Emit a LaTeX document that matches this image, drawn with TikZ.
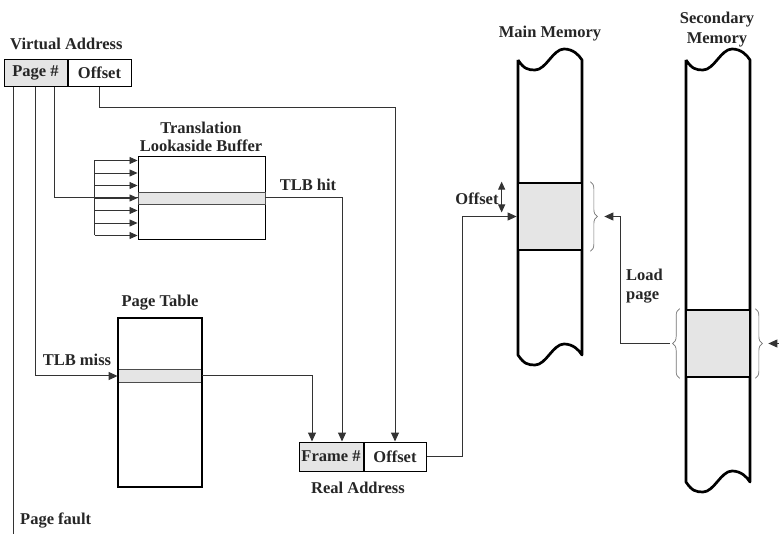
\documentclass[tikz,border=0pt]{standalone}
\usepackage{fontspec}
\setmainfont{Liberation Serif}
\usetikzlibrary{arrows.meta,positioning,calc,decorations.pathreplacing}

\begin{document}
\begin{tikzpicture}[
    x=1pt, y=-1pt,
    lbl/.style={font=\bfseries\fontsize{16.5}{18.5}\selectfont, text=black!85, align=center, inner sep=0pt},
    cell/.style={draw, line width=1pt, minimum height=27pt, inner sep=0pt, font=\bfseries\fontsize{16.5}{18.5}\selectfont, text=black!85},
    rowbox/.style={draw=black!70, line width=0.8pt, fill=gray!20, inner sep=0pt},
    memblk/.style={draw, line width=2.7pt, fill=gray!20, minimum width=64pt, minimum height=67pt, inner sep=0pt},
    memcol/.style={line width=2.7pt, line join=round},
    wire/.style={line width=1pt, black!80, -{Triangle[length=9pt,width=8pt]}},
    fan/.style={line width=0.8pt, black!80, -{Triangle[length=8pt,width=7pt]}},
    curly/.style={draw=black!55, line width=0.7pt, decorate, decoration={brace, amplitude=7pt}}
  ]
  \useasboundingbox (0,0) rectangle (779,534);

  % virtual address
  \node[lbl, anchor=west] (vlbl) at (10,44) {Virtual Address};
  \node[cell, fill=gray!20, minimum width=63pt] (vpage) at (35.5,73) {Page \#};
  \node[cell, minimum width=63pt, anchor=west] (voff) at (vpage.east) {Offset};

  % TLB
  \node[lbl] (tlblbl) at (201,137) {Translation\\Lookaside Buffer};
  \node[draw, line width=0.9pt, minimum width=127pt, minimum height=83pt, inner sep=0pt] (tlb) at (201.5,198) {};
  \node[rowbox, minimum width=127pt, minimum height=12pt] (tlbrow) at (tlb.center) {};

  % page table
  \node[lbl] (ptlbl) at (160,303) {Page Table};
  \node[rowbox, minimum width=84pt, minimum height=13pt] (ptrow) at (160,376) {};
  \node[draw, line width=2.7pt, minimum width=84pt, minimum height=169pt, inner sep=0pt] (ptab) at (160,402.5) {};

  % real address
  \node[cell, fill=gray!20, minimum width=64pt, minimum height=29pt] (rframe) at (331,456.5) {Frame \#};
  \node[cell, minimum width=62pt, minimum height=29pt, anchor=west] (roff) at (rframe.east) {Offset};
  \node[lbl] (rlbl) at (358,488) {Real Address};

  % memories
  \node[lbl] (mmlbl) at (550,34) {Main Memory};
  \node[lbl, font=\bfseries\fontsize{16.5}{20}\selectfont] (smlbl) at (717,30) {Secondary\\Memory};
  \foreach \cx/\cb in {518/355,686/482}
    \draw[memcol] (\cx,60) -- (\cx,\cb)
      .. controls ({\cx+6},{\cb+9}) and ({\cx+10},{\cb+10}) .. ({\cx+17},{\cb+10})
      .. controls ({\cx+28},{\cb+10}) and ({\cx+35},{\cb-11}) .. ({\cx+46},{\cb-11})
      .. controls ({\cx+55},{\cb-11}) and ({\cx+61},{\cb-5}) .. ({\cx+64},\cb)
      -- ({\cx+64},60)
      .. controls ({\cx+61},55) and ({\cx+55},49) .. ({\cx+46},49)
      .. controls ({\cx+35},49) and ({\cx+28},70) .. ({\cx+17},70)
      .. controls ({\cx+10},70) and ({\cx+6},69) .. (\cx,60);
  \node[memblk] (mmpage) at (550,216.5) {};
  \node[memblk] (smpage) at (718,343.5) {};

  % braces
  \draw[curly] ($(mmpage.north east)+(7,0)$) -- ($(mmpage.south east)+(7,0)$);
  \draw[curly] ($(smpage.south west)+(-5,0)$) -- ($(smpage.north west)+(-5,0)$);
  \draw[curly] ($(smpage.north east)+(4,0)$) -- ($(smpage.south east)+(4,0)$);
  \coordinate (mmtip) at ($(mmpage.east)+(21,0)$);
  \coordinate (smltip) at ($(smpage.west)+(-15,0)$);
  \coordinate (smrtip) at ($(smpage.east)+(17,0)$);
  \coordinate (offpage) at (779,343.5);
  \coordinate (pgfault) at (13,534);

  % connectors
  \draw[wire] (voff.south) -- ++(0,21) -| (roff.north);
  \draw[line width=1pt, black!80] ($(vpage.south)+(-22.5,0)$) -- (pgfault);
  \draw[wire] (vpage.south) |- (ptrow.west);
  \draw[line width=1pt, black!80] ($(vpage.south)+(18.5,0)$) |- (tlb.west);
  \draw[line width=0.8pt, black!80] ($(tlb.west)+(-43,-37.5)$) -- ($(tlb.west)+(-43,37.5)$);
  \foreach \k in {-3,...,3}
    \draw[fan] ($(tlb.west)+(-43,\k*12.5)$) -- ($(tlb.west)+(0,\k*12.5)$);
  \draw[wire] (tlbrow.east) -| ($(rframe.north)+(11,0)$);
  \draw[wire] (ptrow.east) -| ($(rframe.north)+(-19,0)$);
  \draw[wire] (roff.east) -- ++(36,0) |- (mmpage.west);
  \draw[line width=1pt, black!80, {Triangle[length=8pt,width=7pt]}-{Triangle[length=8pt,width=7pt]}]
    ($(mmpage.north west)+(-15,0)$) -- ($(mmpage.west)+(-15,-4)$);
  \draw[wire] (smltip) -- ++(-49,0) |- (mmtip);
  \draw[wire] (offpage) -- (smrtip);

  % labels
  \node[lbl] (hitlbl) at (308,185) {TLB hit};
  \node[lbl] (misslbl) at (77,360) {TLB miss};
  \node[lbl] (offlbl) at (477,199) {Offset};
  \node[lbl, anchor=west, align=left] (loadlbl) at (626,286) {Load\\page};
  \node[lbl, anchor=west] (faultlbl) at (20,521) {Page fault};
\end{tikzpicture}
\end{document}
